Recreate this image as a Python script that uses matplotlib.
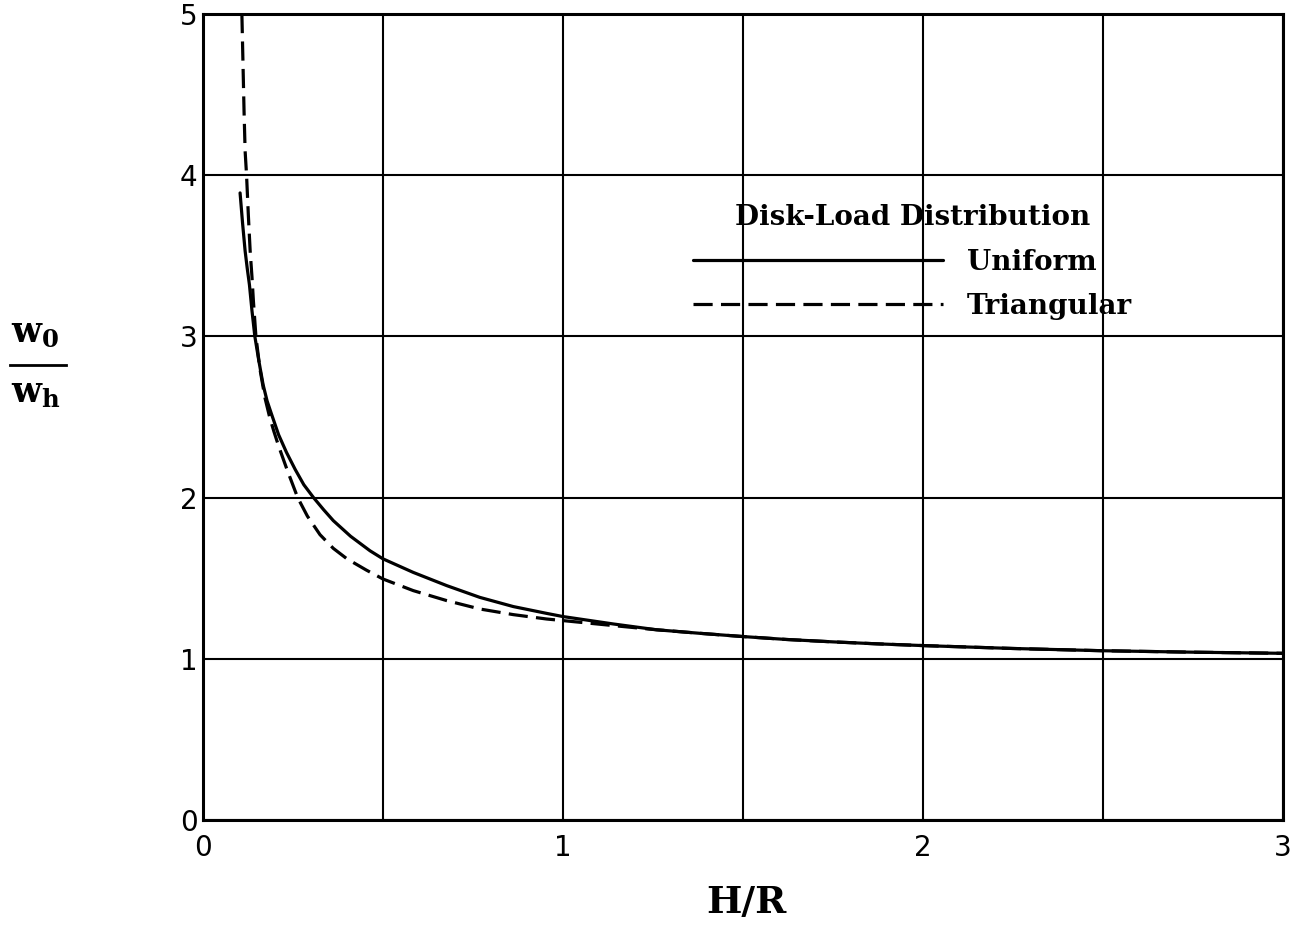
import matplotlib
matplotlib.use("Agg")
import matplotlib.pyplot as plt
from matplotlib.lines import Line2D

# Data (H/R vs w0/wh)
uniform_x = [0.103, 0.110, 0.117, 0.123, 0.129, 0.136, 0.144, 0.155, 0.167, 0.178, 0.19, 0.21,
             0.232, 0.256, 0.28, 0.307, 0.335, 0.362, 0.41, 0.464, 0.5, 0.584, 0.677,
             0.769, 0.862, 0.954, 1.0, 1.14, 1.26, 1.381, 1.5, 1.62, 1.75, 1.87, 2.0, 2.25,
             2.5, 2.75, 3.0]
uniform_y = [3.89, 3.70, 3.53, 3.42, 3.32, 3.16, 3.00, 2.85, 2.70, 2.60, 2.52, 2.39,
             2.28, 2.175, 2.08, 2.00, 1.925, 1.857, 1.76, 1.67, 1.62, 1.536, 1.454,
             1.381, 1.324, 1.282, 1.262, 1.216, 1.18, 1.158, 1.138, 1.12, 1.105, 1.093, 1.082, 1.064,
             1.05, 1.041, 1.034]

tri_x = [0.108, 0.111, 0.114, 0.117, 0.121, 0.126, 0.131, 0.136, 0.14, 0.147, 0.158, 0.172,
         0.185, 0.197, 0.21, 0.234, 0.263, 0.29, 0.325, 0.362, 0.40, 0.454, 0.5, 0.584,
         0.677, 0.769, 0.862, 0.954, 1.0, 1.14, 1.26, 1.381, 1.5, 1.62, 1.75, 1.87, 2.0, 2.25,
         2.5, 2.75, 3.0]
tri_y = [5.0, 4.7, 4.4, 4.15, 4.0, 3.75, 3.53, 3.37, 3.22, 3.0, 2.8, 2.62,
         2.50, 2.41, 2.32, 2.17, 2.0, 1.885, 1.77, 1.685, 1.62, 1.55, 1.495, 1.423,
         1.361, 1.309, 1.274, 1.247, 1.237, 1.206, 1.18, 1.158, 1.138, 1.12, 1.105, 1.093, 1.082, 1.064,
         1.05, 1.041, 1.034]

x_ticks = [0, 0.5, 1, 1.5, 2, 2.5, 3]
x_ticklabels = ["0", "", "1", "", "2", "", "3"]
y_ticks = [0, 1, 2, 3, 4, 5]
y_ticklabels = ["0", "1", "2", "3", "4", "5"]

plt.rcParams['mathtext.fontset'] = 'dejavuserif'

W, H = 1298, 925
fig = plt.figure(figsize=(W / 100, H / 100), dpi=100)
ax = fig.add_axes([203 / W, (H - 820) / H, 1080 / W, 806 / H])

ax.plot(uniform_x, uniform_y, color='black', lw=2.3, solid_capstyle='round',
        solid_joinstyle='round', label='Uniform')
ax.plot(tri_x, tri_y, color='black', lw=2.3, linestyle=(0, (6, 2.6)),
        dash_joinstyle='round', label='Triangular')

ax.set_xlim(0, 3)
ax.set_ylim(0, 5)
ax.set_xticks(x_ticks)
ax.set_xticklabels(x_ticklabels)
ax.set_yticks(y_ticks)
ax.set_yticklabels(y_ticklabels)
ax.tick_params(length=0, labelsize=20)
ax.tick_params(axis='y', pad=4)
ax.tick_params(axis='x', pad=10)
ax.grid(True, color='black', lw=1.5)
for s in ax.spines.values():
    s.set_linewidth(2.2)

# x label
fig.text(746 / W, (H - 913) / H, 'H/R', family='DejaVu Serif', fontsize=27,
         weight='bold', ha='center', va='baseline')

# y label as a stacked fraction
fig.text(11 / W, (H - 341) / H, r'$\mathbf{w}_{\mathbf{0}}$', fontsize=25,
         ha='left', va='baseline')
fig.text(11 / W, (H - 402) / H, r'$\mathbf{w}_{\mathbf{h}}$', fontsize=25,
         ha='left', va='baseline')
fig.add_artist(Line2D([10 / W, 66 / W], [(H - 365) / H, (H - 365) / H],
                      transform=fig.transFigure, color='black', lw=2.0))

leg = ax.legend(loc='upper left', bbox_to_anchor=(693 / W, (H - 204) / H),
                bbox_transform=fig.transFigure, frameon=False,
                title='Disk-Load Distribution', handlelength=9.0,
                prop={'family': 'DejaVu Serif', 'weight': 'bold', 'size': 20},
                labelspacing=0.63, handletextpad=0.85, borderpad=0, borderaxespad=0)
leg.get_title().set_fontfamily('DejaVu Serif')
leg.get_title().set_fontweight('bold')
leg.get_title().set_fontsize(20)

fig.savefig('out.png', dpi=100)
